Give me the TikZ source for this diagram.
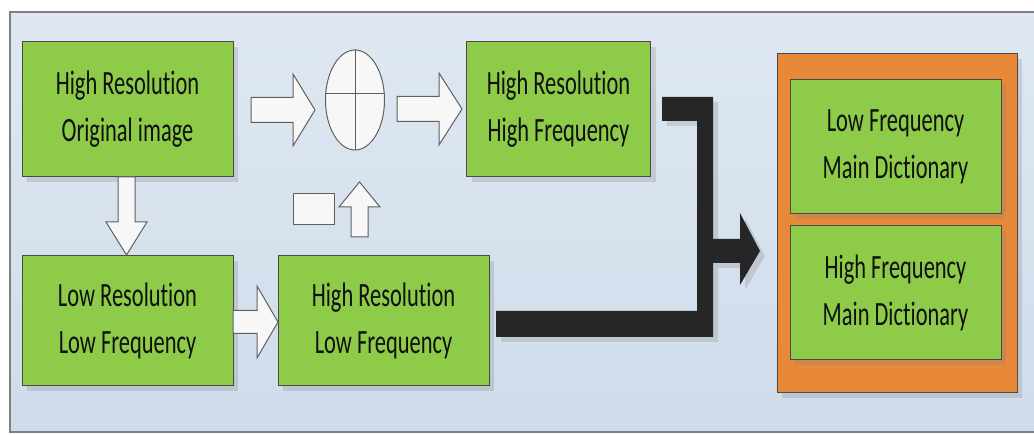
\documentclass[tikz,border=0pt]{standalone}
\usepackage{fontspec}
\setmainfont{Carlito}[FakeStretch=0.66,Ligatures={NoCommon}]
\usetikzlibrary{shapes.geometric,shadows,calc}
\definecolor{bgtop}{HTML}{DFE8F2}
\definecolor{bgbot}{HTML}{CEDCEA}
\definecolor{framegray}{HTML}{808080}
\definecolor{boxgreen}{HTML}{8DCB48}
\definecolor{boxborder}{HTML}{4A4A4A}
\definecolor{boxorange}{HTML}{E8893A}
\definecolor{txt}{HTML}{101010}
\definecolor{blk}{HTML}{262626}
\definecolor{arrfill}{HTML}{F7F7F7}
\definecolor{arrline}{HTML}{5F5F5F}
\newcommand\myR[6]{%
 \filldraw[warr] (#1,#4-#5) -- (#2,#4-#5) -- (#2,#4-#6) -- (#3,#4) -- (#2,#4+#6) -- (#2,#4+#5) -- (#1,#4+#5) -- cycle;}
\newcommand\myV[6]{%
 \filldraw[warr] (#1-#5,#2) -- (#1+#5,#2) -- (#1+#5,#3) -- (#1+#6,#3) -- (#1,#4) -- (#1-#6,#3) -- (#1-#5,#3) -- cycle;}
\newcommand\resol{Resolu\kern0pt t\kern0pt ion}
\begin{document}
\begin{tikzpicture}[x=1pt,y=-1pt,
  shd/.style={drop shadow={shadow xshift=5pt,shadow yshift=-5pt,opacity=0.25,fill=black!50}},
  gbox/.style={draw=boxborder,line width=1pt,fill=boxgreen,inner sep=0pt,align=center,
    text=txt,font=\fontsize{34}{47}\selectfont,shd},
  warr/.style={draw=arrline,line width=1pt,fill=arrfill},
]
\useasboundingbox (0,0) rectangle (1034,435);
\path[top color=bgtop,bottom color=bgbot,draw=framegray,line width=1.5pt] (10,12) rectangle (1045,432);

% green boxes
\node[gbox,minimum width=211,minimum height=135] (orig) at (127.5,109.5) {High \resol\\Original image};
\node[gbox,minimum width=211,minimum height=130] (lrlf) at (127.5,321) {Low \resol\\Low Frequency};
\node[gbox,minimum width=211,minimum height=130] (hrlf) at (383.5,321) {High \resol\\Low Frequency};
\node[gbox,minimum width=184,minimum height=135] (hrhf) at (558.5,109.5) {High \resol\\High Frequency};

% orange dictionary container
\node[draw=boxborder,line width=1pt,fill=boxorange,minimum width=240,minimum height=339,inner sep=0pt,shd] (dict) at (897,223.5) {};
\node[gbox,minimum width=211,minimum height=134] (lfmd) at (895.5,147) {Low Frequency\\Main Dictionary};
\node[gbox,minimum width=211,minimum height=134] (hfmd) at (895.5,293) {High Frequency\\Main Dictionary};

% summation ellipse
\node[ellipse,draw=arrline,line width=1pt,fill=arrfill,minimum width=59,minimum height=100,inner sep=0pt] (sum) at (355,100) {};
\draw[arrline,line width=1pt] (sum.north) -- (sum.south);
\draw[arrline,line width=1pt] ([yshift=6pt]sum.west) -- ([yshift=6pt]sum.east);

% white block arrows
\myR{251}{293}{315}{110}{12.5}{36}
\myR{397}{439}{462}{109}{12.5}{36}
\myR{233}{257}{278}{322}{11.5}{36}
\myV{126.5}{177}{222}{255}{8.5}{20.5}
\myV{359.5}{237}{207}{182}{8.5}{20.5}
\filldraw[warr] (293,194) rectangle (334,225);

% black connector
\fill[blk,shd] (662,97) -- (713,97) -- (713,337) -- (496,337) -- (496,311) -- (697,311) -- (697,121) -- (662,121) -- cycle;
\fill[blk,shd] (713,239) -- (740,239) -- (740,213) -- (760,251) -- (740,285) -- (740,263) -- (713,263) -- cycle;
\end{tikzpicture}
\end{document}
